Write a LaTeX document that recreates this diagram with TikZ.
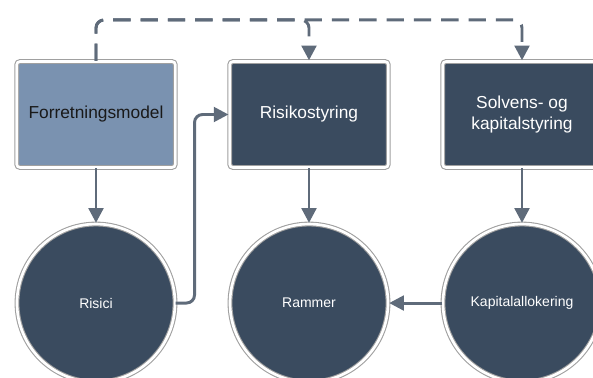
\documentclass[tikz,border=0pt]{standalone}
\usepackage{fontspec}
\setmainfont{Liberation Sans}
\usetikzlibrary{arrows.meta}
\definecolor{lightfill}{RGB}{122,146,176}
\definecolor{darkfill}{RGB}{58,75,95}
\definecolor{linecol}{RGB}{95,107,122}
\definecolor{rimcol}{RGB}{160,160,160}

\begin{document}
\begin{tikzpicture}[x=0.75pt,y=-0.75pt,>={Triangle[length=11pt,width=11pt]},shorten >=0.5pt,node distance=159.75pt,
    box node/.style={rectangle,rounded corners=2.5pt,draw=rimcol,double=white,double distance=2pt,line width=0.8pt,fill=darkfill,text=white,minimum width=119pt,minimum height=79.5pt,align=center,font=\fontsize{13}{16}\selectfont},
    circle node/.style={circle,draw=rimcol,double=white,double distance=2pt,line width=0.8pt,fill=darkfill,text=white,minimum size=118.5pt,inner sep=0pt,font=\fontsize{10.5}{12}\selectfont},
    arrow line/.style={->,draw=linecol,line width=2.2pt,rounded corners=6pt},
    dash line/.style={arrow line,dash pattern=on 13pt off 7.5pt}]
    \useasboundingbox[fill=white] (0,0) rectangle (593,378);
    \node[box node,fill=lightfill,text=black!90] (1) at (96,114.5) {Forretningsmodel};
    \node[box node] (2) [right of=1] {Risikostyring};
    \node[box node] (3) [right of=2] {Solvens- og\\kapitalstyring};
    \node[circle node] (4) [below of=1,node distance=141.4pt] {Risici};
    \node[circle node] (5) [below of=2,node distance=141.4pt] {Rammer};
    \node[circle node] (6) [below of=3,node distance=141.4pt] {Kapitalallokering};

    \draw[arrow line] (1) -- (4);
    \draw[arrow line] (2) -- (5);
    \draw[arrow line] (3) -- (6);
    \draw[arrow line] (6) -- (5);
    \draw[arrow line] (4.east) -- ++(19,0) |- (2.west);
    \draw[dash line] (1.north) -- ++(0,-41) -| (2.north);
    \draw[dash line] (1.north) -- ++(0,-41) -| (3.north);
\end{tikzpicture}
\end{document}
